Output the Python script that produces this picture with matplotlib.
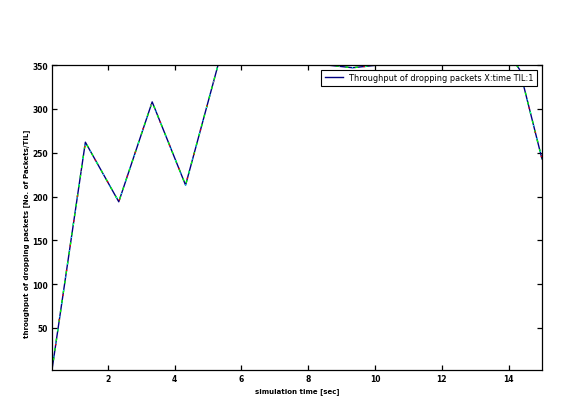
import matplotlib
matplotlib.use("Agg")
import matplotlib.pyplot as plt

# data
times = [0.33, 1.33, 2.33, 3.33, 4.33, 5.33, 6.33, 7.33, 8.33, 9.33, 10.33,
         11.33, 12.33, 13.33, 14.33, 15.0]
throughput = [2, 262, 194, 308, 213, 354, 420, 400, 351, 347, 351,
              400, 420, 400, 345, 243]
xticks = [2, 4, 6, 8, 10, 12, 14]
yticks = [50, 100, 150, 200, 250, 300, 350]

plt.rcParams['font.family'] = ['DejaVu Sans']
fig = plt.figure(figsize=(5.84, 4.06), dpi=100)
ax = fig.add_axes([0.089, 0.0862, 0.839, 0.751])

ax.plot(times, throughput, color='#000080', lw=1.0,
        label='Throughput of dropping packets X:time TIL:1')
ax.plot(times, throughput, color='#00ff00', lw=1.0, dashes=(2, 5))
ax.plot(times, throughput, color='#ff0000', lw=1.0, dashes=(1, 17))
ax.plot(times, throughput, color='#00ffff', lw=0.8, dashes=(1, 11))

ax.set_xlim(0.33, 15)
ax.set_ylim(2, 350)
ax.set_xticks(xticks)
ax.set_yticks(yticks)
ax.tick_params(direction='in', length=3.5, width=0.9, top=True, right=True,
               labelsize=5.5, pad=3)
for lbl in ax.get_xticklabels() + ax.get_yticklabels():
    lbl.set_fontweight('bold')
for s in ax.spines.values():
    s.set_linewidth(0.9)

ax.set_xlabel('simulation time [sec]', fontsize=5.0, fontweight='bold')
ax.xaxis.set_label_coords(0.5, -0.055)
ax.set_ylabel('throughput of dropping packets [No. of Packets/TIL]', fontsize=5.0,
              fontweight='bold')
ax.yaxis.set_label_coords(-0.044, 0.451)

leg = ax.legend(loc='upper right', bbox_to_anchor=(0.99, 0.984), borderaxespad=0,
                fontsize=5.9, fancybox=False, edgecolor='black', framealpha=1,
                handlelength=2.2, borderpad=0.4, handletextpad=0.8)
leg.get_frame().set_linewidth(0.8)

fig.savefig('out.png', dpi=100)
